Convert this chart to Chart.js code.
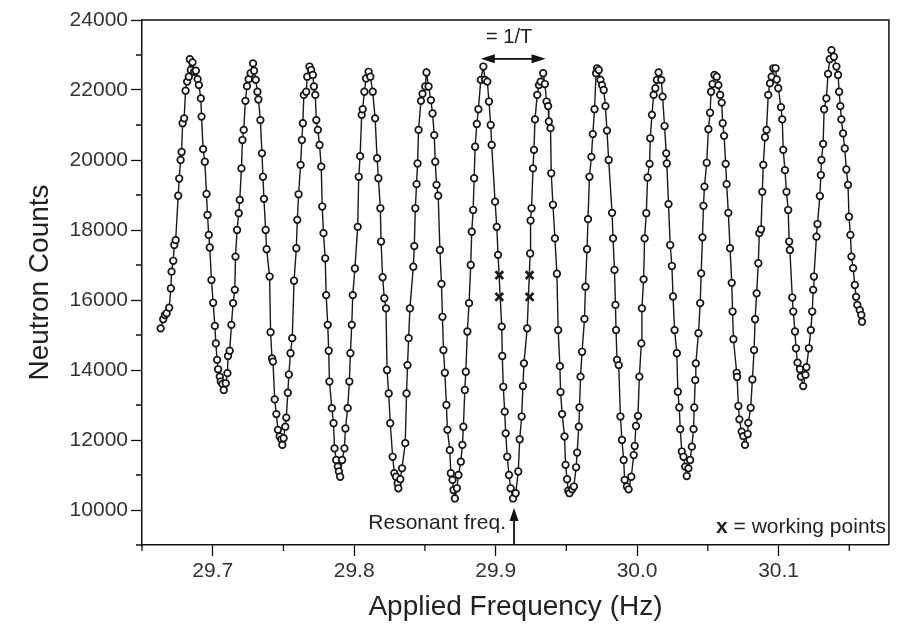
<!DOCTYPE html>
<html>
<head>
<meta charset="utf-8">
<title>Ramsey fringes</title>
<script src="https://cdn.jsdelivr.net/npm/chart.js@4.4.1/dist/chart.umd.min.js"></script>
<style>
  body { margin: 0; background: #fff; }
  #wrap { width: 897px; height: 627px; }
</style>
</head>
<body>
<div id="wrap"><canvas id="fringes" width="897" height="627"></canvas></div>
<script>
/*=============== DATA ===============*/
// applied frequency (Hz), one row per fringe
const freq = [
  29.6632, 29.6650, 29.6662, 29.6674, 29.6692, 29.6704, 29.6709, 29.6721, 29.6728, 29.6738, 29.6756, 29.6763, 29.6773, 29.6780, 29.6787, 29.6798, 29.6808, 29.6819, 29.6831, 29.6838, 29.6845, 29.6857, 29.6869, 29.6881, 29.6893, 29.6902, 29.6916, 29.6921, 29.6932, 29.6944, 29.6956, 29.6963, 29.6972, 29.6979, 29.6991, 29.7003, 29.7015, 29.7022, 29.7031, 29.7038, 29.7050, 29.7057, 29.7069, 29.7078, 29.7092, 29.7104, 29.7108, 29.7120, 29.7132, 29.7144, 29.7156,
  29.7161, 29.7172, 29.7184, 29.7191, 29.7203, 29.7210, 29.7219, 29.7231, 29.7242, 29.7254, 29.7268, 29.7285, 29.7292, 29.7304, 29.7316, 29.7323, 29.7337, 29.7348, 29.7355, 29.7362, 29.7374, 29.7381, 29.7402, 29.7409, 29.7419, 29.7426, 29.7438, 29.7450, 29.7461, 29.7473, 29.7485, 29.7492, 29.7501, 29.7513, 29.7520, 29.7531, 29.7538, 29.7550, 29.7562,
  29.7575, 29.7591, 29.7598, 29.7607, 29.7621, 29.7630, 29.7637, 29.7644, 29.7661, 29.7668, 29.7684, 29.7696, 29.7708, 29.7715, 29.7725, 29.7732, 29.7743, 29.7755, 29.7767, 29.7774, 29.7783, 29.7795, 29.7802, 29.7813, 29.7820, 29.7825, 29.7842, 29.7854, 29.7861, 29.7873, 29.7884, 29.7892, 29.7901, 29.7915, 29.7931, 29.7938, 29.7954, 29.7966, 29.7973, 29.7983, 29.7990,
  29.8005, 29.8025, 29.8032, 29.8042, 29.8053, 29.8060, 29.8072, 29.8084, 29.8102, 29.8114, 29.8131, 29.8148, 29.8162, 29.8171, 29.8185, 29.8190, 29.8201, 29.8213, 29.8225, 29.8232, 29.8244, 29.8255, 29.8272, 29.8284, 29.8296, 29.8307, 29.8312, 29.8326, 29.8338, 29.8361, 29.8370, 29.8377, 29.8385, 29.8394,
  29.8418, 29.8425, 29.8432, 29.8441, 29.8448, 29.8455, 29.8472, 29.8483, 29.8502, 29.8511, 29.8526, 29.8542, 29.8554, 29.8566, 29.8573, 29.8582, 29.8594, 29.8606, 29.8617, 29.8624, 29.8631, 29.8641, 29.8652, 29.8659, 29.8676, 29.8683, 29.8695, 29.8702, 29.8712, 29.8726, 29.8737, 29.8754, 29.8765, 29.8772, 29.8782, 29.8789, 29.8800, 29.8812,
  29.8824, 29.8831, 29.8841, 29.8848, 29.8855, 29.8867, 29.8878, 29.8895, 29.8913, 29.8925, 29.8941, 29.8953, 29.8965, 29.8972, 29.8996, 29.9008, 29.9017, 29.9043, 29.9047, 29.9054, 29.9064, 29.9071, 29.9082, 29.9094, 29.9106, 29.9123, 29.9142, 29.9160, 29.9170, 29.9184, 29.9193, 29.9200, 29.9223,
  29.9244, 29.9247, 29.9254, 29.9264, 29.9271, 29.9278, 29.9294, 29.9306, 29.9318, 29.9336, 29.9348, 29.9360, 29.9371, 29.9376, 29.9388, 29.9393, 29.9405, 29.9419, 29.9433, 29.9442, 29.9454, 29.9459, 29.9470, 29.9487, 29.9494, 29.9505, 29.9513, 29.9522, 29.9541, 29.9553, 29.9569, 29.9576, 29.9588, 29.9593, 29.9600, 29.9611, 29.9628, 29.9635,
  29.9646, 29.9653, 29.9663, 29.9677, 29.9687, 29.9699, 29.9710, 29.9717, 29.9729, 29.9741, 29.9752, 29.9764, 29.9776, 29.9787, 29.9799, 29.9823, 29.9830, 29.9840, 29.9847, 29.9851, 29.9858, 29.9870, 29.9882, 29.9893, 29.9905, 29.9912, 29.9928, 29.9940, 29.9959, 29.9976, 29.9983, 29.9992, 30.0006, 30.0016, 30.0030, 30.0034, 30.0046,
  30.0053, 30.0065, 30.0074, 30.0088, 30.0093, 30.0105, 30.0117, 30.0129, 30.0140, 30.0152, 30.0171, 30.0180, 30.0194, 30.0206, 30.0210, 30.0222, 30.0234, 30.0246, 30.0254, 30.0265, 30.0281, 30.0288, 30.0298, 30.0305, 30.0316, 30.0328, 30.0340, 30.0351, 30.0363, 30.0375, 30.0387, 30.0399, 30.0404, 30.0411, 30.0415, 30.0434, 30.0446,
  30.0453, 30.0462, 30.0469, 30.0476, 30.0492, 30.0504, 30.0516, 30.0523, 30.0533, 30.0547, 30.0563, 30.0575, 30.0587, 30.0598, 30.0605, 30.0615, 30.0626, 30.0633, 30.0645, 30.0657, 30.0669, 30.0675, 30.0681, 30.0704, 30.0707, 30.0716, 30.0723, 30.0739, 30.0751, 30.0763, 30.0782, 30.0786, 30.0803, 30.0815, 30.0827, 30.0834, 30.0845,
  30.0857, 30.0864, 30.0876, 30.0885, 30.0892, 30.0904, 30.0915, 30.0927, 30.0939, 30.0951, 30.0963, 30.0979, 30.0987, 30.0998, 30.1017, 30.1026, 30.1033, 30.1045, 30.1056, 30.1068, 30.1075, 30.1080, 30.1097, 30.1104, 30.1116, 30.1123, 30.1134, 30.1151, 30.1158, 30.1174, 30.1190, 30.1197, 30.1214, 30.1228, 30.1238, 30.1245,
  30.1250, 30.1268, 30.1275, 30.1292, 30.1299, 30.1303, 30.1315, 30.1322, 30.1338, 30.1350, 30.1362, 30.1374, 30.1391, 30.1409, 30.1421, 30.1428, 30.1437, 30.1444, 30.1456, 30.1468, 30.1479, 30.1491, 30.1498, 30.1508, 30.1515, 30.1527, 30.1539, 30.1548, 30.1557, 30.1574, 30.1585, 30.1590
]

// neutron counts, same rows as freq
const counts = [
  15190, 15450, 15570, 15620, 15780, 16330, 16810, 17120, 17570, 17710, 18980, 19470, 20000, 20230, 21050, 21190, 21980, 22240, 22380, 22880, 22570, 22790, 22520, 22550, 22310, 22140, 21760, 21240, 20310, 19950, 19030, 18430, 17860, 17500, 16570, 15920, 15260, 14760, 14290, 14020, 13810, 13670, 13600, 13430, 13620, 13910, 14400, 14550, 15290, 15910, 16290,
  17240, 18000, 18480, 18860, 19760, 20570, 20860, 21690, 22110, 22310, 22480, 22760, 22550, 22290, 21950, 21730, 21140, 20190, 19520, 18890, 18000, 17450, 16670, 15080, 14330, 14240, 13160, 12740, 12290, 12100, 12020, 11860, 12050, 12380, 12640, 13350, 13870, 14480, 14910,
  16550, 17480, 18290, 19020, 19860, 20570, 21050, 21860, 21950, 22380, 22670, 22570, 22430, 22100, 21860, 21140, 20860, 20430, 19810, 18670, 17910, 17190, 16140, 15290, 14550, 13670, 12910, 12480, 11760, 11430, 11240, 11100, 10950, 11430, 11760, 12330, 12910, 13670, 14480, 15290, 16140,
  16900, 18090, 19520, 20110, 21290, 21450, 21950, 22330, 22520, 22380, 21950, 21190, 20050, 19480, 18620, 17670, 16650, 16050, 15760, 14000, 13330, 12480, 11520, 11050, 10950, 10760, 10620, 10880, 11190, 11910, 13330, 14140, 14910, 15760,
  16950, 17540, 18620, 19310, 19900, 20860, 21690, 21890, 22100, 22500, 22100, 21710, 21330, 20710, 19950, 19290, 18980, 17430, 16460, 15520, 14570, 13920, 13000, 12290, 11710, 11050, 10860, 10570, 10330, 10620, 11000, 11380, 11860, 12380, 13430, 13950, 15100, 15910,
  17000, 17950, 18570, 19480, 20380, 21030, 21450, 22290, 22670, 22290, 22240, 21670, 21000, 20430, 18810, 18090, 17290, 15240, 14400, 13520, 12810, 12190, 11520, 11000, 10620, 10330, 10480, 11100, 12020, 12670, 13540, 14190, 15190,
  17330, 18270, 18620, 19760, 20290, 21160, 21860, 22140, 22240, 22480, 22170, 21670, 21540, 21100, 20910, 19620, 18720, 17760, 16750, 15140, 14110, 13370, 12740, 12100, 11290, 10880, 10550, 10480, 10590, 10670, 11220, 11640, 12380, 12930, 13810, 14520, 15460, 16380,
  17450, 18310, 19520, 20090, 20740, 21450, 22480, 22620, 22570, 22290, 22140, 22000, 21540, 20840, 20000, 18490, 17760, 16860, 15860, 15140, 14290, 14140, 12670, 12000, 11430, 10860, 10670, 10590, 10950, 11570, 11830, 12400, 12690, 13810, 14760, 15760, 16590,
  17760, 18480, 19500, 19890, 20620, 21290, 21860, 22050, 22290, 22500, 22290, 21810, 20970, 20190, 19900, 18740, 17570, 16970, 16100, 15140, 14480, 13380, 12930, 12310, 11670, 11520, 11240, 10970, 11190, 11430, 11810, 12310, 12930, 13710, 14190, 15050, 15910,
  16760, 17790, 18690, 19240, 19920, 20880, 21350, 21950, 22170, 22430, 22380, 22140, 21860, 21640, 21050, 20690, 19890, 19310, 18490, 17480, 16490, 15670, 14880, 13920, 13800, 12970, 12590, 12240, 12110, 11860, 12170, 12490, 12920, 13730, 14570, 15450, 16190,
  17050, 17910, 18020, 19090, 19860, 20650, 20860, 21860, 22190, 22380, 22620, 22620, 22300, 22050, 21510, 21160, 20290, 19710, 19090, 18570, 17670, 17430, 16070, 15670, 15100, 14620, 14210, 14020, 13810, 13540, 13860, 14080, 14620, 15140, 15670, 16290,
  16670, 17810, 18170, 18970, 19570, 20000, 20460, 21450, 21760, 22460, 22880, 23140, 22950, 22670, 22430, 21950, 21540, 21160, 20760, 20330, 19730, 19290, 18380, 17860, 17240, 16910, 16430, 16090, 15860, 15710, 15570, 15380
]

// working points marked with x
const workFreq = [29.9026, 29.9026, 29.9240, 29.9240]
const workCounts = [16710, 16090, 16090, 16710]

// axis ticks
const xTicks = [29.7, 29.8, 29.9, 30.0, 30.1]
const xMinor = [29.65, 29.75, 29.85, 29.95, 30.05, 30.15]
const yTicks = [10000, 12000, 14000, 16000, 18000, 20000, 22000, 24000]
const yMinor = [9000, 11000, 13000, 15000, 17000, 19000, 21000, 23000]

// annotations (data units)
const periodFrom = 29.8895, periodTo = 29.9353, periodLevel = 22890
const resonantFreq = 29.9130, resonantTip = 10060

/*=============== STYLE ===============*/
const family = '"Liberation Sans", Arial, Helvetica, sans-serif'
const ink = '#111'

/*=============== ANNOTATIONS ===============*/
const arrowHead = (ctx, x, y, angle, len, half) => {
  const c = Math.cos(angle), s = Math.sin(angle)
  ctx.beginPath()
  ctx.moveTo(x, y)
  ctx.lineTo(x - len * c + half * s, y - len * s - half * c)
  ctx.lineTo(x - len * c - half * s, y - len * s + half * c)
  ctx.closePath()
  ctx.fill()
}

const annotate = {
  id: 'annotate',
  afterDraw(chart) {
    const { ctx, chartArea: area, scales: { x, y } } = chart
    ctx.save()
    ctx.strokeStyle = ink
    ctx.fillStyle = ink

    // top and right edges of the frame
    ctx.lineWidth = 1.5
    ctx.beginPath()
    ctx.moveTo(area.left, area.top)
    ctx.lineTo(area.right, area.top)
    ctx.lineTo(area.right, area.bottom)
    ctx.stroke()

    // minor ticks
    ctx.lineWidth = 1.3
    ctx.beginPath()
    xMinor.forEach(v => {
      const px = x.getPixelForValue(v)
      ctx.moveTo(px, area.bottom)
      ctx.lineTo(px, area.bottom + 6)
    })
    yMinor.forEach(v => {
      const py = y.getPixelForValue(v)
      ctx.moveTo(area.left, py)
      ctx.lineTo(area.left - 6, py)
    })
    ctx.stroke()

    // period arrow  = 1/T
    const x1 = x.getPixelForValue(periodFrom), x2 = x.getPixelForValue(periodTo)
    const py = y.getPixelForValue(periodLevel)
    ctx.lineWidth = 1.8
    ctx.beginPath()
    ctx.moveTo(x1 + 8, py)
    ctx.lineTo(x2 - 8, py)
    ctx.stroke()
    arrowHead(ctx, x1, py, Math.PI, 14, 4.5)
    arrowHead(ctx, x2, py, 0, 14, 4.5)
    ctx.font = '20px ' + family
    ctx.fillStyle = '#222'
    ctx.textAlign = 'center'
    ctx.textBaseline = 'middle'
    ctx.fillText('= 1/T', (x1 + x2) / 2 - 4, py - 21)

    // resonant frequency arrow
    ctx.fillStyle = ink
    const rx = x.getPixelForValue(resonantFreq), tip = y.getPixelForValue(resonantTip)
    ctx.beginPath()
    ctx.moveTo(rx, area.bottom)
    ctx.lineTo(rx, tip + 8)
    ctx.stroke()
    arrowHead(ctx, rx, tip, -Math.PI / 2, 13, 4.5)
    ctx.font = '21px ' + family
    ctx.fillStyle = '#222'
    ctx.textAlign = 'right'
    ctx.fillText('Resonant freq.', rx - 8, tip + 15)

    // working points note
    const noteY = area.bottom - 18
    ctx.font = '21px ' + family
    const rest = ' = working points'
    const restW = ctx.measureText(rest).width
    ctx.fillText(rest, area.right - 3, noteY)
    ctx.font = 'bold 21px ' + family
    ctx.fillText('x', area.right - 3 - restW, noteY)

    ctx.restore()
  }
}

/*=============== CHART ===============*/
const fringePoints = freq.map((f, i) => ({ x: f, y: counts[i] }))
const workPoints = workFreq.map((f, i) => ({ x: f, y: workCounts[i] }))

const ctxFringes = document.getElementById('fringes').getContext('2d')
new Chart(ctxFringes, {
  type: 'scatter',
  data: {
    datasets: [{
      label: 'Working points',
      data: workPoints,
      showLine: false,
      pointStyle: 'crossRot',
      pointRadius: 5.5,
      pointHoverRadius: 5.5,
      pointBorderWidth: 2.6,
      pointBorderColor: '#1a1a1a',
      order: 0
    }, {
      label: 'Neutron counts',
      data: fringePoints,
      showLine: true,
      borderColor: '#1a1a1a',
      borderWidth: 1.4,
      pointStyle: 'circle',
      pointRadius: 3.3,
      pointHoverRadius: 3.3,
      pointBorderWidth: 1.7,
      pointBorderColor: '#151515',
      pointBackgroundColor: '#fff',
      order: 1
    }]
  },
  options: {
    responsive: false,
    animation: false,
    layout: { padding: { top: 20, right: 6, left: 0, bottom: 0 } },
    plugins: {
      legend: { display: false },
      tooltip: { enabled: false }
    },
    scales: {
      x: {
        type: 'linear',
        min: 29.65,
        max: 30.178,
        afterFit: s => { s.height = 82 },
        afterBuildTicks: s => { s.ticks = xTicks.map(v => ({ value: v })) },
        grid: { drawOnChartArea: false, tickLength: 11, tickColor: ink, tickWidth: 1.3 },
        border: { color: ink, width: 1.5 },
        ticks: {
          padding: 3,
          color: '#333',
          maxRotation: 0,
          autoSkip: false,
          font: { family, size: 21 },
          callback: v => v.toFixed(1)
        },
        title: {
          display: true,
          text: 'Applied Frequency (Hz)',
          color: '#222',
          font: { family, size: 28 },
          padding: { top: 0, bottom: 3 }
        }
      },
      y: {
        min: 9000,
        max: 24000,
        afterFit: s => { s.width = 142 },
        afterBuildTicks: s => { s.ticks = yTicks.map(v => ({ value: v })) },
        grid: { drawOnChartArea: false, tickLength: 11, tickColor: ink, tickWidth: 1.3 },
        border: { color: ink, width: 1.5 },
        ticks: {
          padding: 3,
          color: '#333',
          autoSkip: false,
          font: { family, size: 21 },
          callback: v => String(v)
        },
        title: {
          display: true,
          text: 'Neutron Counts',
          color: '#222',
          font: { family, size: 28 },
          padding: { top: 23, bottom: 0 }
        }
      }
    }
  },
  plugins: [annotate]
})
</script>
</body>
</html>
